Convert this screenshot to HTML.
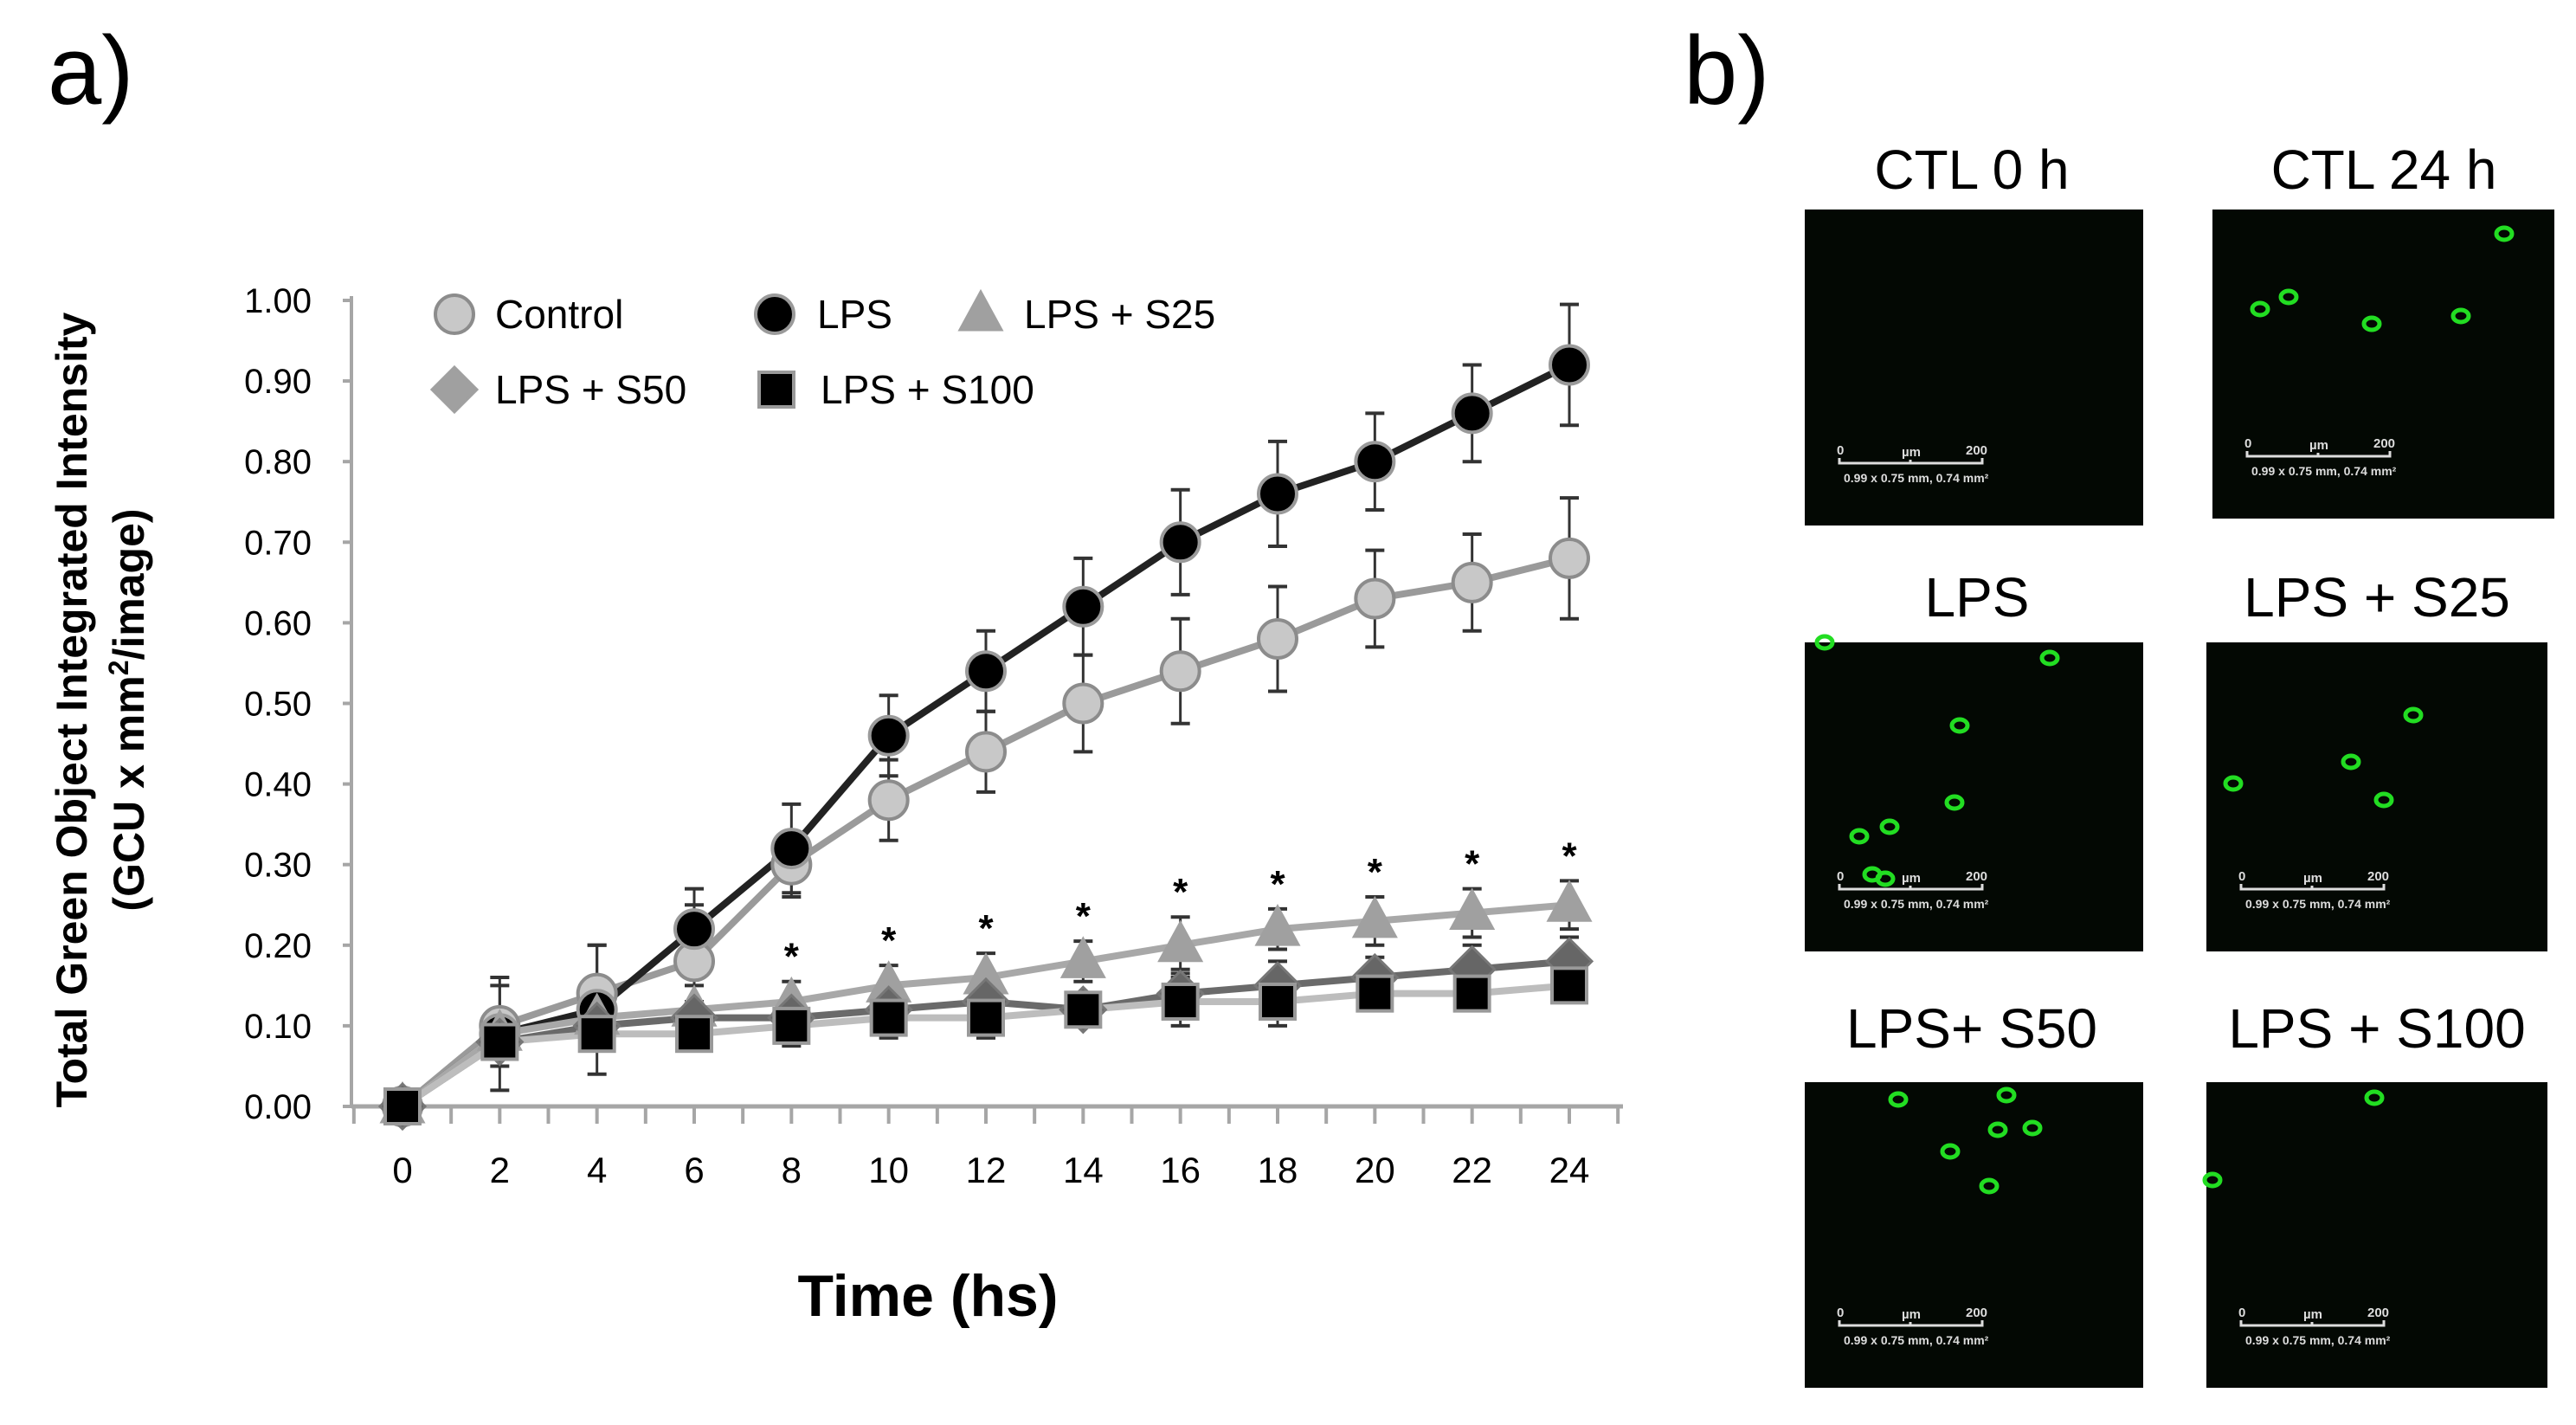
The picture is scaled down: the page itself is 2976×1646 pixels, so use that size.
<!DOCTYPE html>
<html><head><meta charset="utf-8"><style>
html,body{margin:0;padding:0;background:#fff}
svg{display:block;font-family:"Liberation Sans",Arial,sans-serif}
</style></head><body>
<svg id="fig" width="2976" height="1646" viewBox="0 0 2976 1646">
<text x="55" y="120" font-size="112">a)</text>
<text x="1945" y="120" font-size="112">b)</text>
<g id="chart"></g>
<g id="micro" transform="translate(-12,0)"></g>
</svg>
<script>
const categories=[0,2,4,6,8,10,12,14,16,18,20,22,24];
const yTicks=["0.00","0.10","0.20","0.30","0.40","0.50","0.60","0.70","0.80","0.90","1.00"];
const controlVals=[0,0.10,0.14,0.18,0.30,0.38,0.44,0.50,0.54,0.58,0.63,0.65,0.68];
const controlErr=[0,0.05,0.06,0.07,0.04,0.05,0.05,0.06,0.065,0.065,0.06,0.06,0.075];
const lpsVals=[0,0.09,0.12,0.22,0.32,0.46,0.54,0.62,0.70,0.76,0.80,0.86,0.92];
const lpsErr=[0,0.07,0.08,0.05,0.055,0.05,0.05,0.06,0.065,0.065,0.06,0.06,0.075];
const s25Vals=[0,0.09,0.11,0.12,0.13,0.15,0.16,0.18,0.20,0.22,0.23,0.24,0.25];
const s25Err=[0,0.03,0.03,0.03,0.025,0.025,0.03,0.025,0.035,0.025,0.03,0.03,0.03];
const s50Vals=[0,0.08,0.10,0.11,0.11,0.12,0.13,0.12,0.14,0.15,0.16,0.17,0.18];
const s50Err=[0,0.02,0.02,0.02,0.02,0.02,0.03,0.02,0.03,0.03,0.025,0.03,0.03];
const s100Vals=[0,0.08,0.09,0.09,0.10,0.11,0.11,0.12,0.13,0.13,0.14,0.14,0.15];
const s100Err=[0,0.02,0.02,0.02,0.025,0.025,0.025,0.02,0.03,0.03,0.02,0.02,0.02];
const starIdx=[4,5,6,7,8,9,10,11,12];

const NS="http://www.w3.org/2000/svg";
const X0=465,X1=1813,Y0=1278,Y1=347;
const xs=v=>X0+(v/24)*(X1-X0);
const ys=v=>Y0-v*(Y0-Y1);
const chart=document.getElementById('chart');
function mk(tag,attrs,parent,name,text){const e=document.createElementNS(NS,tag);for(const k in attrs)e.setAttribute(k,attrs[k]);if(text!==undefined)e.textContent=text;


(parent||chart).appendChild(e);return e;}
mk('line',{x1:406,y1:Y1-5,x2:406,y2:Y0,stroke:'#a6a6a6','stroke-width':4},chart,'y-axis');
mk('line',{x1:406,y1:Y0,x2:1875,y2:Y0,stroke:'#a6a6a6','stroke-width':5},chart,'x-axis');
yTicks.forEach((t,i)=>{const v=parseFloat(t);const y=ys(v);
mk('line',{x1:396,y1:y,x2:406,y2:y,stroke:'#a6a6a6','stroke-width':4},chart,'y-tick');
mk('text',{x:360,y:y+14,'text-anchor':'end','font-size':40},chart,'y-tick-label',t);});
for(let h=-1;h<=25;h++){const x=xs(h);if(x<406||x>1880)continue;
mk('line',{x1:x,y1:Y0,x2:x,y2:Y0+20,stroke:'#a6a6a6','stroke-width':4},chart,'x-tick');}
categories.forEach(c=>mk('text',{x:xs(c),y:1366,'text-anchor':'middle','font-size':42},chart,'x-tick-label',String(c)));
mk('text',{x:1072,y:1520,'text-anchor':'middle','font-size':68,'font-weight':'bold'},chart,'x-axis-title','Time (hs)');
mk('text',{x:0,y:0,'text-anchor':'middle','font-size':50,'font-weight':'bold',transform:'translate(100,820) rotate(-90)'},chart,'y-axis-title','Total Green Object Integrated Intensity');
const yt2=mk('text',{x:0,y:0,'text-anchor':'middle','font-size':50,'font-weight':'bold',transform:'translate(166,820) rotate(-90)'},chart,'y-axis-title-units','');
yt2.innerHTML='(GCU x mm<tspan font-size="32" dy="-18">2</tspan><tspan dy="18">/image)</tspan>';

function marker(type,x,y,fill,stroke,name){
 if(type==='circle')return mk('circle',{cx:x,cy:y,r:22,fill:fill,stroke:stroke,'stroke-width':4},chart,name);
 if(type==='tri')return mk('polygon',{points:`${x},${y-26} ${x+24},${y+18} ${x-24},${y+18}`,fill:fill,stroke:stroke,'stroke-width':3},chart,name);
 if(type==='dia')return mk('polygon',{points:`${x},${y-26} ${x+26},${y} ${x},${y+26} ${x-26},${y}`,fill:fill,stroke:stroke,'stroke-width':3},chart,name);
 return mk('rect',{x:x-20,y:y-20,width:40,height:40,fill:fill,stroke:stroke,'stroke-width':4},chart,name);}
const series=[
 {name:'control',vals:controlVals,err:controlErr,type:'circle',fill:'#c8c8c8',stroke:'#8c8c8c',line:'#9a9a9a'},
 {name:'lps',vals:lpsVals,err:lpsErr,type:'circle',fill:'#000',stroke:'#9a9a9a',line:'#222'},
 {name:'lps-s25',vals:s25Vals,err:s25Err,type:'tri',fill:'#a0a0a0',stroke:'#a0a0a0',line:'#a8a8a8'},
 {name:'lps-s50',vals:s50Vals,err:s50Err,type:'dia',fill:'#666',stroke:'#777',line:'#6a6a6a'},
 {name:'lps-s100',vals:s100Vals,err:s100Err,type:'rect',fill:'#000',stroke:'#999',line:'#bdbdbd'}];
series.forEach(s=>{
 s.vals.forEach((v,i)=>{if(!s.err[i])return;const x=xs(categories[i]);
  mk('line',{x1:x,y1:ys(v-s.err[i]),x2:x,y2:ys(v+s.err[i]),stroke:'#333','stroke-width':3},chart,s.name+'-error-bar');
  [v-s.err[i],v+s.err[i]].forEach(e=>mk('line',{x1:x-11,y1:ys(e),x2:x+11,y2:ys(e),stroke:'#333','stroke-width':4},chart,s.name+'-error-cap'));});
 mk('polyline',{points:s.vals.map((v,i)=>xs(categories[i])+','+ys(v)).join(' '),fill:'none',stroke:s.line,'stroke-width':8},chart,s.name+'-line');});
series.forEach(s=>s.vals.forEach((v,i)=>marker(s.type,xs(categories[i]),ys(v),s.fill,s.stroke,s.name+'-point')));
starIdx.forEach(i=>mk('text',{x:xs(categories[i]),y:ys(s25Vals[i]+s25Err[i])-14,'text-anchor':'middle','font-size':44,'font-weight':'bold'},chart,'significance-star','*'));
const leg=[['circle',525,363,'#c8c8c8','#8c8c8c',572,'Control'],['circle',895,363,'#000','#9a9a9a',944,'LPS'],['tri',1133,363,'#a0a0a0','#a0a0a0',1183,'LPS + S25'],['dia',525,450,'#a0a0a0','#a0a0a0',572,'LPS + S50'],['rect',897,450,'#000','#999',948,'LPS + S100']];
leg.forEach(l=>{marker(l[0],l[1],l[2],l[3],l[4],'legend-marker');mk('text',{x:l[5],y:l[2]+16,'font-size':46},chart,'legend-entry',l[6]);});

const micro=document.getElementById('micro');
const panels=[
 {t:'CTL 0 h',x:2097,y:242,w:391,h:365,tx:2290,ty:218,dots:[]},
 {t:'CTL 24 h',x:2568,y:242,w:395,h:357,tx:2766,ty:218,dots:[[2623,357],[2656,343],[2752,374],[2855,365],[2905,270]]},
 {t:'LPS',x:2097,y:742,w:391,h:357,tx:2296,ty:712,dots:[[2276,838],[2190,1015],[2270,927],[2160,966],[2195,955],[2175,1010],[2380,760],[2120,742]]},
 {t:'LPS + S25',x:2561,y:742,w:394,h:357,tx:2758,ty:712,dots:[[2800,826],[2728,880],[2592,905],[2766,924]]},
 {t:'LPS+ S50',x:2097,y:1250,w:391,h:353,tx:2290,ty:1210,dots:[[2205,1270],[2330,1265],[2320,1305],[2310,1370],[2265,1330],[2360,1303]]},
 {t:'LPS + S100',x:2561,y:1250,w:394,h:353,tx:2758,ty:1210,dots:[[2755,1268],[2568,1363]]}];
panels.forEach(p=>{
 mk('text',{x:p.tx,y:p.ty,'text-anchor':'middle','font-size':64},micro,'panel-title',p.t);
 mk('rect',{x:p.x,y:p.y,width:p.w,height:p.h,fill:'#030803'},micro,'micrograph');
 p.dots.forEach(d=>mk('ellipse',{cx:d[0],cy:d[1],rx:9,ry:7,fill:'none',stroke:'#22dd22','stroke-width':5},micro,'green-cell'));
 const bx=p.x+40,by=p.y+p.h-72;
 mk('path',{d:`M${bx},${by-6}V${by}H${bx+165}V${by-6}M${bx+82},${by}v-4`,stroke:'#ddd','stroke-width':3,fill:'none'},micro,'scale-bar');
 mk('text',{x:bx-3,y:by-10,'font-size':15,fill:'#ddd','font-weight':'bold'},micro,'scale-label','0');
 mk('text',{x:bx+72,y:by-8,'font-size':15,fill:'#ddd','font-weight':'bold'},micro,'scale-label','µm');
 mk('text',{x:bx+146,y:by-10,'font-size':15,fill:'#ddd','font-weight':'bold'},micro,'scale-label','200');
 mk('text',{x:bx+5,y:by+22,'font-size':14,fill:'#ddd','font-weight':'bold'},micro,'scale-caption','0.99 x 0.75 mm, 0.74 mm²');
});
</script>
</body></html>
